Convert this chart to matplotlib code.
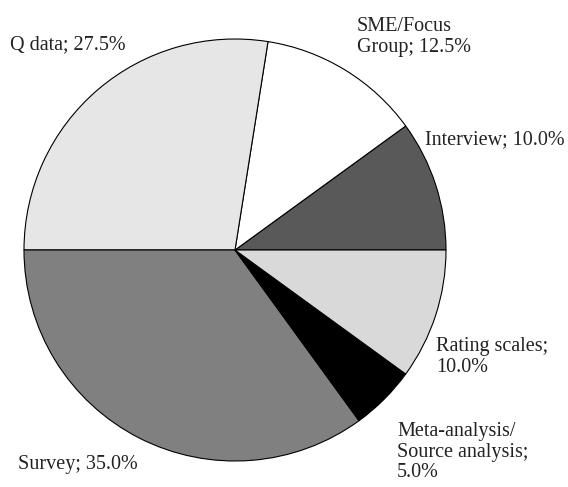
import matplotlib.pyplot as plt

# data
labels = ['Interview', 'SME/Focus\nGroup', 'Q data', 'Survey',
          'Meta-analysis/\nSource analysis;\n', 'Rating scales;\n']
shares = [10.0, 12.5, 27.5, 35.0, 5.0, 10.0]
colors = ['#595959', '#ffffff', '#e6e6e6', '#808080', '#000000', '#d9d9d9']

# label anchor points (pixels in the reference image), left aligned
label_px = [(425, 140), (357, 37), (10, 45), (18, 464), (397, 452), (436, 357)]

fig = plt.figure(figsize=(5.68, 4.87), dpi=100)
W, H = 568, 487
cx, cy, r = 235, 250, 211
ax = fig.add_axes([(cx - r) / W, (H - cy - r) / H, 2 * r / W, 2 * r / H])

ax.pie(shares, colors=colors, startangle=0, counterclock=True, radius=1,
       wedgeprops=dict(edgecolor='black', linewidth=0.8))
ax.set_xlim(-1, 1)
ax.set_ylim(-1, 1)
ax.set_aspect('equal')
ax.axis('off')

for lab, val, (px, py) in zip(labels, shares, label_px):
    if lab.endswith('\n'):
        txt = f'{lab}{val:.1f}%'
    else:
        txt = f'{lab}; {val:.1f}%'
    ax.text((px - cx) / r, (cy - py) / r, txt, ha='left', va='center',
            fontsize=14.5, family='Liberation Serif', color='#222222',
            linespacing=1.1, clip_on=False)

plt.savefig('out.png', dpi=100)
